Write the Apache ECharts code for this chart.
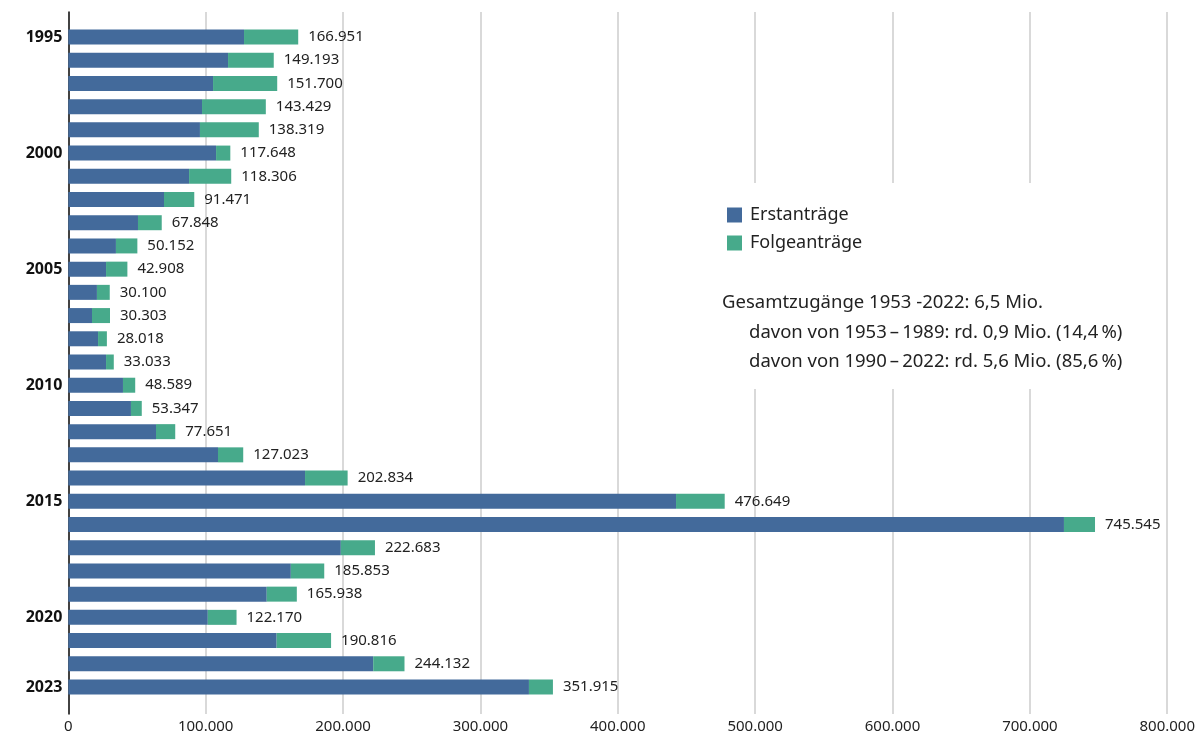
<!DOCTYPE html>
<html>
<head>
<meta charset="utf-8">
<script src="https://cdn.jsdelivr.net/npm/echarts@6/dist/echarts.min.js"></script>
<style>
html,body{margin:0;padding:0;background:#fff;}
#chart{width:1198px;height:738px;}
</style>
</head>
<body>
<div id="chart"></div>
<script>
const years = ['1995','1996','1997','1998','1999','2000','2001','2002','2003','2004','2005','2006','2007','2008','2009','2010','2011','2012','2013','2014','2015','2016','2017','2018','2019','2020','2021','2022','2023'];
const shownYears = ['1995','2000','2005','2010','2015','2020','2023'];
const totals = [166951,149193,151700,143429,138319,117648,118306,91471,67848,50152,42908,30100,30303,28018,33033,48589,53347,77651,127023,202834,476649,745545,222683,185853,165938,122170,190816,244132,351915];
const erstantraege = [127600,116000,105100,97100,95600,107300,87700,69500,50600,34600,27400,20800,17200,21600,27400,39700,45500,63700,108700,171900,441300,723000,197900,161600,144100,101300,151300,221400,334500];
const folgeantraege = [39351,33193,46600,46329,42719,10348,30606,21971,17248,15552,15508,9300,13103,6418,5633,8889,7847,13951,18323,30934,35349,22545,24783,24253,21838,20870,39516,22732,17415];
const seriesNames = ['Erstanträge','Folgeanträge'];
const noteLines = ['Gesamtzugänge 1953 -2022: 6,5 Mio.','davon von 1953\u2009–\u20091989: rd. 0,9 Mio. (14,4\u2009%)','davon von 1990\u2009–\u20092022: rd. 5,6 Mio. (85,6\u2009%)'];

function fmt(n){return String(n).replace(/\B(?=(\d{3})+(?!\d))/g,'.');}

const FONT = '"Noto Sans", "Open Sans", sans-serif';
const BLUE = '#436a9b';
const GREEN = '#47aa8b';

const chart = echarts.init(document.getElementById('chart'));
const L = 68.3, R = 1198 - 1170;
chart.setOption({
  animation:false,
  textStyle:{fontFamily:FONT},
  grid:[
    {left:L,right:R,top:25.4,bottom:738-698.6,containLabel:false},
    {left:L,right:R,top:12,bottom:738-714,containLabel:false}
  ],
  legend:{
    left:722, top:201, orient:'vertical', itemWidth:15, itemHeight:15, itemGap:10,
    icon:'rect', data:seriesNames, z:20,
    textStyle:{fontFamily:FONT,fontSize:18,color:'#222',padding:[0,0,0,3]}
  },
  xAxis:[
    {gridIndex:0,type:'value',min:0,max:800000,interval:100000,show:false},
    {gridIndex:1,type:'value',min:0,max:800000,interval:100000,
      axisLine:{show:false},axisTick:{show:false},
      splitLine:{show:true,lineStyle:{color:'#cccccc',width:1.5}},
      axisLabel:{fontFamily:FONT,fontSize:15,color:'#222',margin:5,formatter:v=>fmt(v)}}
  ],
  yAxis:[
    {gridIndex:0,type:'category',data:years,inverse:true,
      axisLine:{show:false},axisTick:{show:false},
      axisLabel:{interval:0,margin:6,fontFamily:FONT,fontSize:16,fontWeight:'bold',color:'#111',
        formatter:v=>shownYears.indexOf(v)>=0?v:''}},
    {gridIndex:1,type:'value',min:0,max:1,show:true,
      axisLine:{show:true,lineStyle:{color:'#111',width:1.5}},
      axisTick:{show:false},axisLabel:{show:false},splitLine:{show:false}}
  ],
  series:[
    {name:seriesNames[0],type:'bar',stack:'a',xAxisIndex:0,yAxisIndex:0,barWidth:15,
      itemStyle:{color:BLUE},data:erstantraege},
    {name:seriesNames[1],type:'bar',stack:'a',xAxisIndex:0,yAxisIndex:0,barWidth:15,
      itemStyle:{color:GREEN},data:folgeantraege,
      label:{show:true,position:'right',distance:10,fontFamily:FONT,fontSize:15,color:'#222',
        formatter:p=>fmt(totals[p.dataIndex])}}
  ],
  graphic:[
    {type:'rect',left:712,top:183,z:5,shape:{width:436,height:206},style:{fill:'#ffffff'}},
    {type:'text',left:722,top:293,z:10,style:{text:noteLines[0],font:'18.5px '+FONT,fill:'#222'}},
    {type:'text',left:749,top:323,z:10,style:{text:noteLines[1],font:'18.5px '+FONT,fill:'#222'}},
    {type:'text',left:749,top:352,z:10,style:{text:noteLines[2],font:'18.5px '+FONT,fill:'#222'}}
  ]
});
</script>
</body>
</html>
